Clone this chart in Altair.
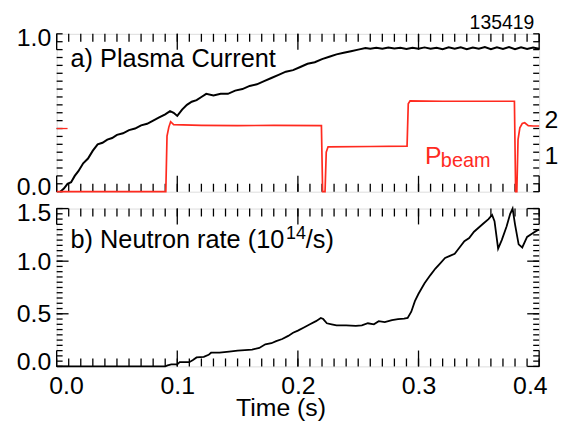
import altair as alt
import pandas as pd

# ---------------- data ----------------
cur_t = [0.003, 0.006, 0.009, 0.012, 0.015, 0.018, 0.022, 0.026, 0.030, 0.034,
         0.038, 0.042, 0.046, 0.050, 0.055, 0.060, 0.065, 0.070, 0.075, 0.080,
         0.085, 0.090, 0.094, 0.097, 0.100, 0.104, 0.108, 0.112, 0.116, 0.120,
         0.124, 0.130, 0.136, 0.142, 0.148, 0.154, 0.160, 0.166, 0.172, 0.178,
         0.184, 0.190, 0.196, 0.202, 0.208, 0.214, 0.220, 0.226, 0.232, 0.238,
         0.244, 0.250, 0.256, 0.260, 0.265, 0.270, 0.275, 0.280, 0.285, 0.290,
         0.295, 0.300, 0.305, 0.310, 0.315, 0.320, 0.325, 0.330, 0.335, 0.340,
         0.345, 0.350, 0.355, 0.360, 0.365, 0.370, 0.375, 0.380, 0.385, 0.390,
         0.395, 0.400]
cur_v = [0.00, 0.02, 0.05, 0.06, 0.10, 0.13, 0.18, 0.21, 0.26, 0.30,
         0.31, 0.33, 0.34, 0.36, 0.37, 0.39, 0.40, 0.42, 0.43, 0.45,
         0.47, 0.49, 0.51, 0.50, 0.48, 0.52, 0.55, 0.57, 0.58, 0.60,
         0.62, 0.61, 0.62, 0.62, 0.64, 0.65, 0.67, 0.68, 0.70, 0.72,
         0.74, 0.76, 0.77, 0.79, 0.81, 0.82, 0.84, 0.855, 0.87, 0.88,
         0.89, 0.90, 0.91, 0.906, 0.912, 0.905, 0.913, 0.907, 0.911, 0.904,
         0.912, 0.906, 0.914, 0.905, 0.912, 0.903, 0.914, 0.905, 0.915, 0.903,
         0.913, 0.905, 0.916, 0.902, 0.914, 0.904, 0.916, 0.902, 0.915, 0.904,
         0.913, 0.906]

pb_t = [0.0, 0.0905, 0.0915, 0.093, 0.0945, 0.097, 0.12, 0.15, 0.18, 0.2195,
        0.2205, 0.2225, 0.2235, 0.225, 0.26, 0.2905, 0.2915, 0.293, 0.32, 0.35,
        0.3795, 0.3805, 0.3815, 0.3825, 0.384, 0.386, 0.388, 0.391, 0.395, 0.400]
pb_v = [0.0, 0.0, 1.55, 1.80, 1.95, 1.87, 1.85, 1.84, 1.85, 1.84,
        0.0, 0.0, 1.10, 1.25, 1.26, 1.27, 2.45, 2.53, 2.52, 2.52,
        2.52, 0.0, 0.0, 1.45, 1.78, 1.90, 1.92, 1.84, 1.83, 1.83]

neu_t = [0.000, 0.090, 0.092, 0.095, 0.100, 0.102, 0.110, 0.113, 0.116, 0.122,
         0.126, 0.128, 0.135, 0.143, 0.150, 0.156, 0.162, 0.168, 0.173, 0.178,
         0.182, 0.187, 0.192, 0.196, 0.200, 0.205, 0.210, 0.215, 0.219, 0.221,
         0.224, 0.228, 0.232, 0.240, 0.248, 0.253, 0.258, 0.263, 0.267, 0.272,
         0.278, 0.283, 0.288, 0.291, 0.294, 0.297, 0.300, 0.305, 0.310, 0.314,
         0.318, 0.322, 0.326, 0.330, 0.334, 0.338, 0.342, 0.346, 0.350, 0.354,
         0.358, 0.361, 0.363, 0.366, 0.369, 0.373, 0.376, 0.378, 0.380, 0.383,
         0.386, 0.390, 0.394, 0.398, 0.400]
neu_v = [0.00, 0.00, 0.01, 0.02, 0.02, 0.04, 0.04, 0.06, 0.085, 0.09,
         0.11, 0.13, 0.13, 0.14, 0.15, 0.155, 0.16, 0.175, 0.21, 0.22,
         0.24, 0.26, 0.29, 0.32, 0.34, 0.37, 0.40, 0.43, 0.46, 0.45,
         0.41, 0.40, 0.39, 0.39, 0.385, 0.39, 0.41, 0.40, 0.43, 0.42,
         0.44, 0.45, 0.455, 0.46, 0.52, 0.62, 0.69, 0.79, 0.87, 0.93,
         0.98, 1.03, 1.05, 1.07, 1.13, 1.19, 1.22, 1.28, 1.32, 1.36,
         1.40, 1.44, 1.38, 1.12, 1.20, 1.33, 1.45, 1.50, 1.35, 1.16,
         1.13, 1.23, 1.26, 1.29, 1.30]

x_major = [0.0, 0.1, 0.2, 0.3, 0.4]
x_minor = [round(0.01 * i, 2) for i in range(41)]
top_labels = [0.0, 1.0]
top_minor = [round(0.05 * i, 2) for i in range(21)]
bot_major = [0.0, 0.5, 1.0, 1.5]
bot_minor = [round(0.05 * i, 2) for i in range(31)]
pb_labels = [1, 2]
marker_tick = [0.4]

FONT = "Liberation Sans"
RED = "#ff2a1f"
W, H = 486, 159

cur = pd.DataFrame({"t": cur_t, "v": cur_v})
pb = pd.DataFrame({"t": pb_t, "p": pb_v})
neu = pd.DataFrame({"t": neu_t, "v": neu_v})
dummy = pd.DataFrame({"t": [0.0]})

xs = alt.Scale(domain=[0, 0.4], nice=False, zero=False)


def yscale(dom):
    return alt.Scale(domain=dom, nice=False, zero=False)


def xticks(vals, L, edge):
    df = pd.DataFrame({"t": vals})
    if edge == "bottom":
        y, y2 = alt.value(H), alt.value(H - L)
    else:
        y, y2 = alt.value(0), alt.value(L)
    return alt.Chart(df).mark_rule(color="black", strokeWidth=1.3).encode(
        x=alt.X("t:Q", scale=xs, axis=None), y=y, y2=y2)


def yticks(vals, dom, L, edge, color="black"):
    df = pd.DataFrame({"v": vals})
    if edge == "left":
        x, x2 = alt.value(0), alt.value(L)
    else:
        x, x2 = alt.value(W), alt.value(W - L)
    return alt.Chart(df).mark_rule(color=color, strokeWidth=1.3).encode(
        y=alt.Y("v:Q", scale=yscale(dom), axis=None), x=x, x2=x2)


def text_layer(txt, x, y, size=25.5, color="black", align="left"):
    return alt.Chart(dummy).mark_text(
        text=txt, font=FONT, fontSize=size, color=color, align=align,
        baseline="alphabetic").encode(x=alt.value(x), y=alt.value(y))


def label_axis(orient, values, fmt, pad, flush):
    kw = dict(orient=orient, values=values, ticks=False, tickSize=0,
              domain=False, grid=False, format=fmt, labelFontSize=25,
              labelFont=FONT, labelColor="black", labelPadding=pad,
              title=None)
    if flush:
        kw.update(labelFlush=True, labelFlushOffset=8)
    return alt.Axis(**kw)


# ---------------- top panel ----------------
cur_line = alt.Chart(cur).mark_line(color="black", strokeWidth=2).encode(
    x=alt.X("t:Q", scale=xs, axis=None),
    y=alt.Y("v:Q", scale=yscale([0, 1]),
            axis=label_axis("left", top_labels, ".1f", 6, True)),
)
pb_line = alt.Chart(pb).mark_line(color=RED, strokeWidth=1.7).encode(
    x=alt.X("t:Q", scale=xs, axis=None),
    y=alt.Y("p:Q", scale=yscale([0, 4.4]),
            axis=label_axis("right", pb_labels, "d", 5, False)),
)
top = alt.layer(
    xticks(x_minor, 8, "bottom"), xticks(x_major, 16, "bottom"),
    xticks(x_minor, 8, "top"), xticks(x_major, 16, "top"),
    yticks(top_minor, [0, 1], 6, "left"), yticks(top_minor, [0, 1], 6, "right"),
    yticks(marker_tick, [0, 1], 11, "left", color=RED),
    cur_line,
    pb_line,
    text_layer("a) Plasma Current", 14, 33),
    text_layer("P", 371, 131, size=25, color=RED),
    text_layer("beam", 387, 134, size=20, color=RED),
    text_layer("135419", 481, -5, size=19.5, align="right"),
).resolve_scale(y="independent").resolve_axis(
    x="independent", y="independent").properties(width=W, height=H)

# ---------------- bottom panel ----------------
neu_line = alt.Chart(neu).mark_line(color="black", strokeWidth=1.8).encode(
    x=alt.X("t:Q", scale=xs,
            axis=label_axis("bottom", x_major, ".1f", 7, True)),
    y=alt.Y("v:Q", scale=yscale([0, 1.5]),
            axis=label_axis("left", bot_major, ".1f", 6, True)),
)
bottom = alt.layer(
    xticks(x_minor, 8, "bottom"), xticks(x_major, 16, "bottom"),
    xticks(x_minor, 8, "top"), xticks(x_major, 16, "top"),
    yticks(bot_minor, [0, 1.5], 6, "left"), yticks(bot_minor, [0, 1.5], 6, "right"),
    yticks(bot_major, [0, 1.5], 12, "left"), yticks(bot_major, [0, 1.5], 12, "right"),
    neu_line,
    text_layer("b) Neutron rate (10", 14, 40),
    text_layer("14", 231, 31, size=18),
    text_layer("/s)", 251, 40),
    text_layer("Time (s)", 226, 209, size=25, align="center"),
).resolve_scale(y="independent").resolve_axis(
    x="independent", y="independent").properties(width=W, height=H)

chart = alt.vconcat(top, bottom, spacing=17, bounds="flush").properties(
    padding={"left": 7, "top": 2.5, "right": 0, "bottom": 0}
).configure_view(stroke="black", strokeWidth=2).configure(font=FONT)

chart.save("out.html", embed_options={"renderer": "svg", "actions": False})
